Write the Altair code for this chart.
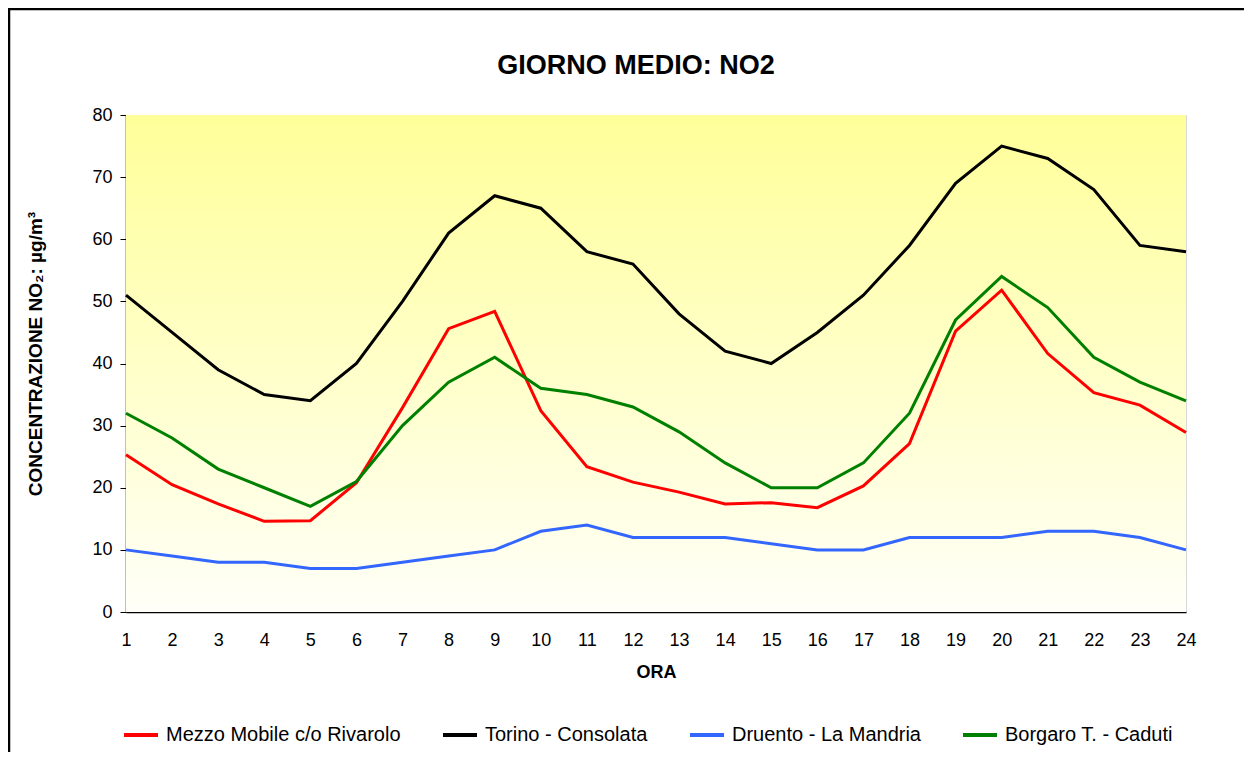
import altair as alt
import pandas as pd

hours = list(range(1, 25))
series_names = ["Mezzo Mobile c/o Rivarolo", "Torino - Consolata", "Druento - La Mandria", "Borgaro T. - Caduti"]
series_colors = ["#FF0000", "#000000", "#3366FF", "#008000"]

mezzo = [25.3, 20.5, 17.4, 14.6, 14.7, 20.8, 32.9, 45.6, 48.4, 32.4, 23.4, 20.9, 19.3, 17.4, 17.6, 16.8,
         20.3, 27.1, 45.2, 51.8, 41.6, 35.3, 33.3, 28.9]
torino = [51, 45, 39, 35, 34, 40, 50, 61, 67, 65, 58, 56, 48, 42, 40, 45, 51, 59, 69, 75, 73, 68, 59, 58]
druento = [10, 9, 8, 8, 7, 7, 8, 9, 10, 13, 14, 12, 12, 12, 11, 10, 10, 12, 12, 12, 13, 13, 12, 10]
borgaro = [32, 28, 23, 20, 17, 21, 30, 37, 41, 36, 35, 33, 29, 24, 20, 20, 24, 32, 47, 54, 49, 41, 37, 34]

rows = []
for name, vals in zip(series_names, [mezzo, torino, druento, borgaro]):
    for h, v in zip(hours, vals):
        rows.append({"ora": h, "valore": v, "serie": name})
df = pd.DataFrame(rows)

FONT = "Liberation Sans"
W, H = 1060, 497

one = pd.DataFrame({"k": [0]})

frame = alt.Chart(one).mark_rect(
    filled=False, stroke="black", strokeWidth=2.5
).encode(
    x=alt.value(-117), y=alt.value(-106), x2=alt.value(W + 300), y2=alt.value(H + 300)
)

bg = alt.Chart(one).mark_rect(
    color=alt.LinearGradient(gradient="linear", x1=0, y1=0, x2=0, y2=1,
                             stops=[alt.GradientStop(offset=0, color="#FFFF99"),
                                    alt.GradientStop(offset=1, color="#FFFFF8")])
).encode(
    x=alt.value(0), y=alt.value(0), x2=alt.value(W), y2=alt.value(H)
)

lines = alt.Chart(df).mark_line(strokeWidth=3).encode(
    x=alt.X("ora:Q",
            scale=alt.Scale(domain=[1, 24], nice=False, zero=False),
            axis=alt.Axis(values=hours, title="ORA", ticks=False, labelPadding=28,
                          labelBaseline="middle", labelFontSize=18, labelFont=FONT,
                          labelColor="black", domainColor="black", domainWidth=1.5,
                          gridColor="#D9D9D9", gridWidth=1,
                          titleFont=FONT, titleFontSize=18, titleFontWeight="bold",
                          titleColor="black", titleX=W / 2, titleY=60,
                          titleBaseline="middle", labelFlush=False)),
    y=alt.Y("valore:Q",
            scale=alt.Scale(domain=[0, 80], nice=False),
            axis=alt.Axis(values=list(range(0, 81, 10)), title="CONCENTRAZIONE NO\u2082: \u00b5g/m\u00b3",
                          tickSize=6, tickColor="black", labelPadding=8,
                          labelFontSize=18, labelFont=FONT, labelColor="black",
                          domainColor="black", domainWidth=1.5,
                          gridColor="#D9D9D9", gridWidth=1,
                          titleFont=FONT, titleFontSize=19, titleFontWeight="bold",
                          titleColor="black", titleAngle=-90, titleX=-91, titleY=H / 2 - 10,
                          titleBaseline="middle", titleAlign="center")),
    color=alt.Color("serie:N",
                    scale=alt.Scale(domain=series_names, range=series_colors),
                    sort=series_names,
                    legend=alt.Legend(title=None, orient="none", direction="horizontal",
                                      legendX=-4, legendY=601,
                                      symbolType="stroke", symbolSize=1156,
                                      symbolStrokeWidth=4, labelFontSize=20,
                                      labelFont=FONT, labelColor="black",
                                      labelOffset=6, columnPadding=34, labelLimit=400)),
)

chart = alt.layer(frame, bg, lines).properties(
    width=W, height=H,
    padding={"left": 118, "top": 107, "right": 58, "bottom": 140},
    autosize=alt.AutoSizeParams(type="none"),
    title=alt.TitleParams("GIORNO MEDIO: NO2", fontSize=27, fontWeight="bold", font=FONT,
                          color="black", anchor="middle", dx=-20, offset=-72),
).configure_view(
    stroke="#555555", strokeWidth=1.5,
).configure(background="white")

chart.save("out.html", embed_options={"renderer": "svg", "actions": False})
